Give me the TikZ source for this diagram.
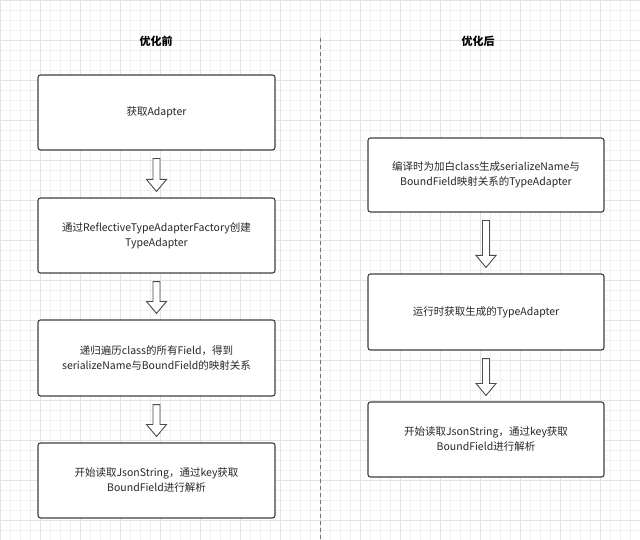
\documentclass[tikz,border=0pt]{standalone}
\usepackage{fontspec}
\setmainfont{Noto Sans CJK SC}
\usetikzlibrary{calc}
\tikzset{
  boxst/.style={draw=black!75,line width=1.1pt,rounded corners=2.5pt,fill=white,align=center,font=\fontsize{10.5}{15}\selectfont,text=black!85},
  titlest/.style={font=\bfseries\fontsize{11}{13}\selectfont},
  harrow/.style={draw=black!70,line width=0.9pt,fill=white,line join=miter}
}
\newcommand{\hollowarrow}[2]{%
  \draw[harrow] ($(#1.south)+(-3.5,8)$) -- ($(#1.south)+(3.5,8)$) -- ($(#2.north)+(3.5,-18)$) -- ($(#2.north)+(10,-18)$) -- ($(#2.north)+(0,-6)$) -- ($(#2.north)+(-10,-18)$) -- ($(#2.north)+(-3.5,-18)$) -- cycle;}
\begin{document}
\begin{tikzpicture}[x=1pt,y=-1pt]
\useasboundingbox (0,0) rectangle (640,540);
\fill[white] (0,0) rectangle (640,540);
\foreach \i in {0,10,...,640} \draw[black!6,line width=0.4pt] (\i,0) -- (\i,540);
\foreach \i in {0,10,...,540} \draw[black!6,line width=0.4pt] (0,\i) -- (640,\i);
\foreach \i in {0,40,...,640} \draw[black!11,line width=0.5pt] (\i,0) -- (\i,540);
\foreach \i in {0,40,...,540} \draw[black!11,line width=0.5pt] (0,\i) -- (640,\i);
\draw[black!55,line width=0.9pt,dash pattern=on 4pt off 3pt] (320,38) -- (320,540);
\node[titlest] (t1) at (156,41) {优化前};
\node[titlest] (t2) at (478,41) {优化后};
\node[boxst,minimum width=237,minimum height=75] (a1) at (156.5,112.5) {获取Adapter};
\node[boxst,minimum width=237,minimum height=75] (a2) at (156.5,235.5) {通过ReflectiveTypeAdapterFactory创建\\TypeAdapter};
\node[boxst,minimum width=237,minimum height=76] (a3) at (156.5,358) {递归遍历class的所有Field，得到\\serializeName与BoundField的映射关系};
\node[boxst,minimum width=237,minimum height=75] (a4) at (156.5,480.5) {开始读取JsonString，通过key获取\\BoundField进行解析};
\node[boxst,minimum width=236,minimum height=74] (b1) at (486,175) {编译时为加白class生成serializeName与\\BoundField映射关系的TypeAdapter};
\node[boxst,minimum width=236,minimum height=76] (b2) at (486,312) {运行时获取生成的TypeAdapter};
\node[boxst,minimum width=236,minimum height=75] (b3) at (486,439.5) {开始读取JsonString，通过key获取\\BoundField进行解析};
\hollowarrow{a1}{a2}
\hollowarrow{a2}{a3}
\hollowarrow{a3}{a4}
\hollowarrow{b1}{b2}
\hollowarrow{b2}{b3}
\end{tikzpicture}
\end{document}
